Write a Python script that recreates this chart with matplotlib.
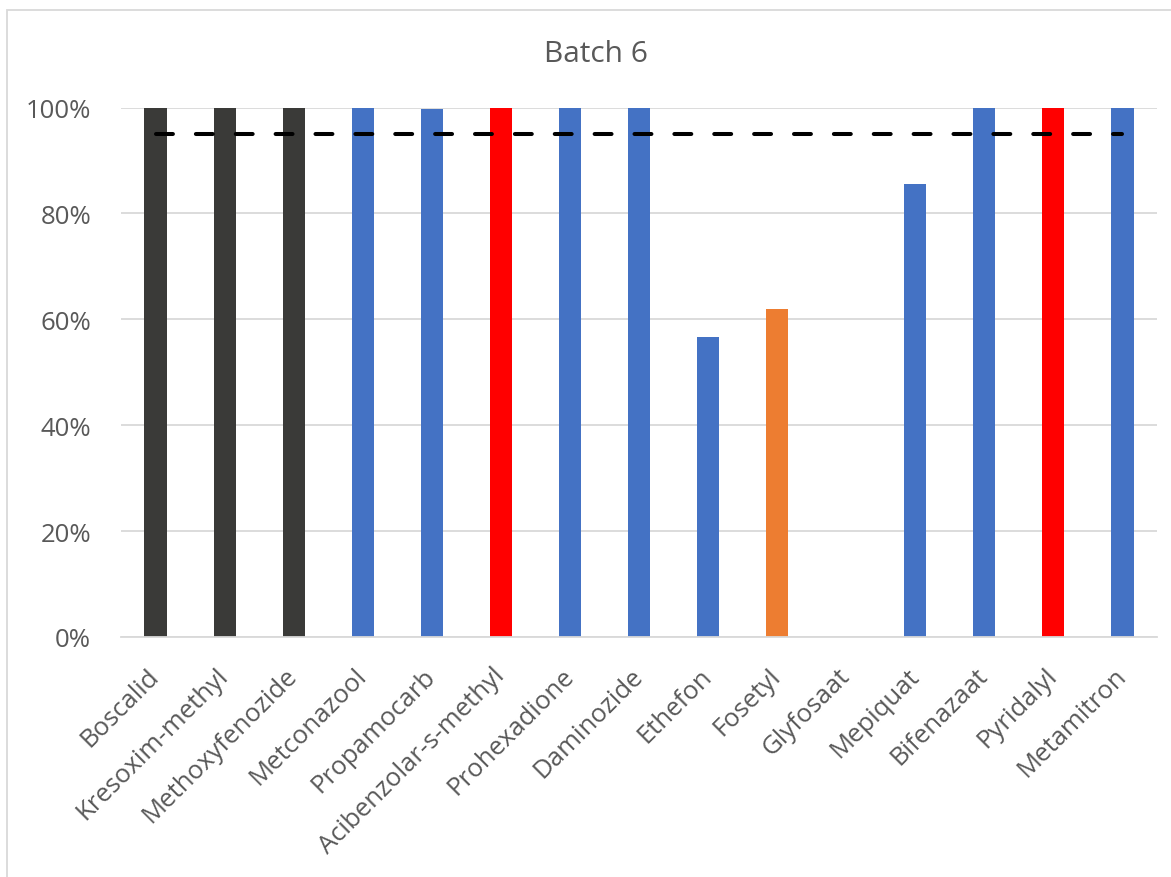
import numpy as np
import matplotlib.pyplot as plt
from matplotlib.ticker import PercentFormatter
from matplotlib.patches import Rectangle

# Werkzame stoffen en terugvinding (fractie) voor batch 6
stoffen = ['Boscalid', 'Kresoxim-methyl', 'Methoxyfenozide', 'Metconazool',
           'Propamocarb', 'Acibenzolar-s-methyl', 'Prohexadione', 'Daminozide',
           'Ethefon', 'Fosetyl', 'Glyfosaat', 'Mepiquat', 'Bifenazaat',
           'Pyridalyl', 'Metamitron']
waarden = [1.0, 1.0, 1.0, 1.0, 0.998, 1.0, 1.0, 1.0,
           0.566, 0.620, 0.0, 0.855, 1.0, 1.0, 1.0]
groep = ['grijs', 'grijs', 'grijs', 'blauw', 'blauw', 'rood', 'blauw', 'blauw',
         'blauw', 'oranje', 'blauw', 'blauw', 'blauw', 'rood', 'blauw']
drempel = 0.95

kleuren = {'grijs': '#3A3A38', 'blauw': '#4472C4', 'rood': '#FF0000', 'oranje': '#ED7D31'}
tekstkleur = '#595959'

plt.rcParams['font.family'] = ['Open Sans', 'DejaVu Sans']

fig = plt.figure(figsize=(11.71, 8.78), dpi=100)
ax = fig.add_axes([121 / 1171, 240 / 878, 1036 / 1171, 529.5 / 878])

x = np.arange(len(stoffen))
ax.bar(x, waarden, width=0.32, color=[kleuren[g] for g in groep], zorder=2)

# drempellijn op 95%
ax.plot([x[0], x[-1]], [drempel, drempel], color='black', linewidth=2.9,
        dashes=(4.2, 5.7), dash_capstyle='round', zorder=3)

ax.set_xlim(-0.5, len(stoffen) - 0.5)
ax.set_ylim(0, 1.0)
ax.set_yticks(np.arange(0, 1.01, 0.2))
ax.yaxis.set_major_formatter(PercentFormatter(1.0, decimals=0))
ax.yaxis.grid(True, color='#D9D9D9', linewidth=1.3, zorder=0)
ax.set_axisbelow(True)

ax.set_xticks(x)
ax.set_xticklabels(stoffen, rotation=45, ha='right', va='center',
                   rotation_mode='anchor', fontsize=18.5, color=tekstkleur)
ax.tick_params(axis='x', length=0, pad=25)
ax.tick_params(axis='y', length=0, pad=21.5, labelsize=18.5, labelcolor=tekstkleur)

for s in ['left', 'right', 'top']:
    ax.spines[s].set_visible(False)
ax.spines['bottom'].set_color('#D9D9D9')
ax.spines['bottom'].set_linewidth(1.3)

fig.text(596 / 1171, 1 - 55 / 878, 'Batch 6', ha='center', va='center',
         fontsize=21.5, color=tekstkleur)

# rand van het grafiekgebied
fig.patches.append(Rectangle((7 / 1171, -0.1), 1.2, 1 - 11 / 878 + 0.1,
                             transform=fig.transFigure, fill=False,
                             edgecolor='#D9D9D9', linewidth=1.3))

fig.savefig('out.png', dpi=100)
